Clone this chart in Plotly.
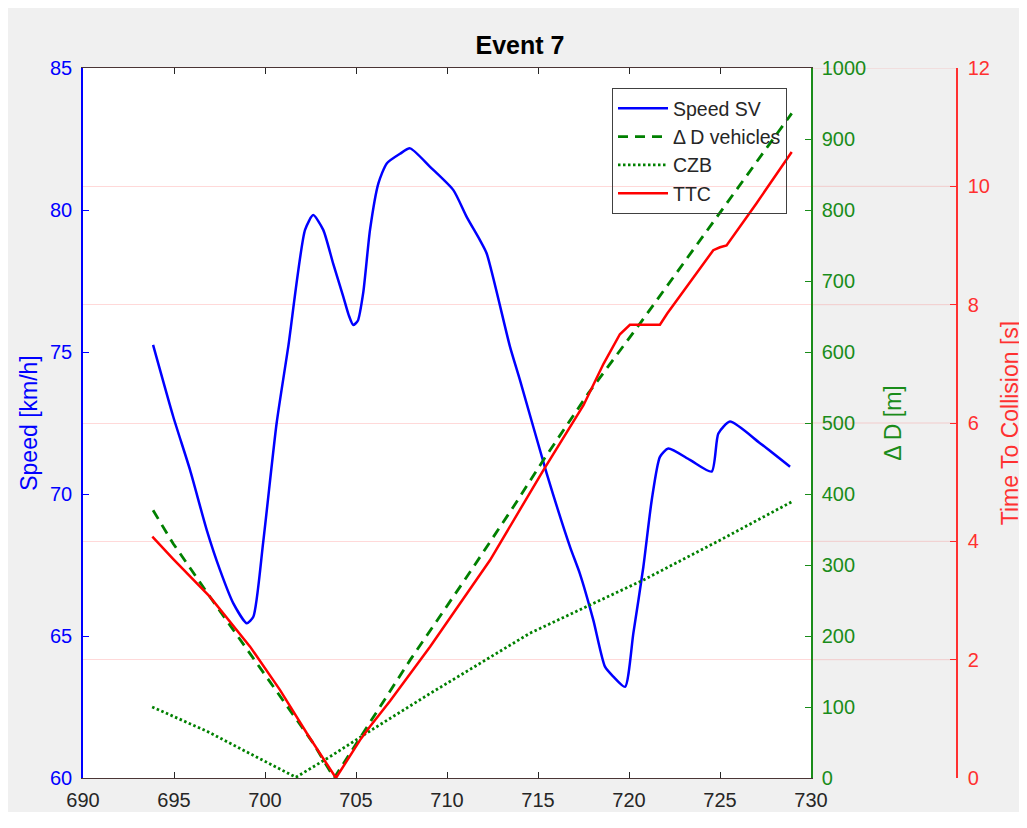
import plotly.graph_objects as go

# ---------------- data ----------------
t_speed = [693.85, 694.96, 695.88, 696.8, 697.53, 698.26, 699.0, 699.36, 699.9, 700.64,
           701.28, 702.2, 702.65, 703.2, 703.75, 704.3, 704.6, 704.85, 705.1, 705.4,
           705.77, 706.23, 706.69, 707.42, 707.97, 709.07, 710.35, 711.08, 711.81, 712.18,
           713.46, 714.01, 715.48, 716.76, 717.3, 718.04, 718.68, 719.14, 719.78, 720.24,
           720.79, 721.25, 721.7, 722.16, 723.35, 724.54, 724.91, 725.55, 727.2, 728.85]
speed_sv = [75.25, 72.72, 70.85, 68.73, 67.32, 66.15, 65.45, 65.68, 68.3, 72.5,
            75.2, 79.3, 79.82, 79.3, 78.1, 76.95, 76.3, 75.95, 76.1, 77.1,
            79.3, 80.94, 81.64, 81.98, 82.17, 81.52, 80.7, 79.76, 78.94, 78.47,
            75.19, 74.01, 70.72, 68.14, 67.2, 65.56, 63.92, 63.57, 63.21, 65.1,
            67.44, 69.79, 71.31, 71.6, 71.2, 70.79, 72.13, 72.55, 71.79, 70.96]

t_dd = [693.85, 694.96, 696.98, 701.0, 702.65, 703.8, 704.85, 707.97, 711.08, 713.65,
        715.3, 717.77, 720.6, 722.98, 725.46, 727.47, 728.94]
delta_d = [377, 330, 255, 110, 49, 0, 42, 166, 283, 382,
           448, 542, 640, 725, 814, 884, 936]

t_czb = [693.8, 696.8, 699.5, 701.7, 703.57, 706.0, 709.07, 714.56, 717.3, 720.8, 725.0, 728.94]
czb = [100, 66, 30, 1, 30, 70, 119, 204, 237, 279, 335, 389]

t_ttc = [693.81, 694.96, 696.98, 699.18, 700.82, 702.29, 703.9, 705.22, 705.77, 706.87,
         709.07, 712.36, 715.29, 717.5, 718.6, 719.5, 720.05, 721.7, 722.1, 724.63,
         725.0, 725.36, 727.0, 728.94]
ttc = [4.08, 3.70, 3.06, 2.22, 1.49, 0.76, 0.0, 0.64, 0.87, 1.3,
       2.22, 3.68, 5.2, 6.3, 7.0, 7.5, 7.66, 7.66, 7.85, 8.92,
       8.97, 9.0, 9.71, 10.58]

x_ticks = [690, 695, 700, 705, 710, 715, 720, 725, 730]
speed_ticks = [60, 65, 70, 75, 80, 85]
dd_ticks = [0, 100, 200, 300, 400, 500, 600, 700, 800, 900, 1000]
ttc_ticks = [0, 2, 4, 6, 8, 10, 12]

# ---------------- layout geometry ----------------
# the page body adds an 8px offset; keep the page free of scrollbars
W, H = 1019, 804
L, R, T, B = 75, 70, 60, 34
PLOT_RIGHT = 803
plot_w = W - L - R
plot_h = H - T - B
x_dom_end = (PLOT_RIGHT - L) / plot_w

def px_x(px):
    return (px - L) / plot_w

def px_y(py):
    return (H - B - py) / plot_h

FONT = "Liberation Sans, Arial, Helvetica, sans-serif"
BLUE = "#0000ff"
GREEN = "#008000"
GREEN_AX = "#1a8c1a"
RED = "#ff0000"
RED_AX = "#ff3030"
DARK = "#262626"
GRID = "rgba(255,0,0,0.15)"

fig = go.Figure()
fig.add_trace(go.Scatter(x=t_speed, y=speed_sv, name="Speed SV", mode="lines",
                         line=dict(color=BLUE, width=2.5, shape="spline", smoothing=0.6),
                         yaxis="y", legendgroup="a"))
fig.add_trace(go.Scatter(x=t_dd, y=delta_d, name="\u0394 D vehicles", mode="lines",
                         line=dict(color=GREEN, width=2.8, dash="10px,7px"),
                         yaxis="y2", legendgroup="b"))
fig.add_trace(go.Scatter(x=t_czb, y=czb, name="CZB", mode="lines",
                         line=dict(color=GREEN, width=2.8, dash="2.5px,2.5px"),
                         yaxis="y2", legendgroup="c"))
fig.add_trace(go.Scatter(x=t_ttc, y=ttc, name="TTC", mode="lines",
                         line=dict(color=RED, width=2.5),
                         yaxis="y3", legendgroup="d"))

shapes = []
# red grid lines continuing outside the axes box up to the TTC axis
for v in ttc_ticks[1:]:
    shapes.append(dict(type="line", xref="paper", yref="y3", x0=x_dom_end, x1=1,
                       y0=v, y1=v, line=dict(color=GRID, width=1), layer="above"))

fig.update_layout(
    width=W, height=H,
    margin=dict(l=L, r=R, t=T, b=B, autoexpand=False),
    paper_bgcolor="#f0f0f0",
    plot_bgcolor="white",
    font=dict(family=FONT, size=20, color=DARK),
    title=dict(text="<b>Event 7</b>", x=0.5, xref="paper",
               xanchor="center", y=1 - 37 / H, yref="container", yanchor="middle",
               font=dict(family=FONT, size=25, color="#000000")),
    xaxis=dict(domain=[0, x_dom_end], range=[690, 730], tickvals=x_ticks,
               ticks="inside", ticklen=6, tickcolor=DARK, showline=True, linecolor="#4a3535",
               linewidth=1, mirror="ticks", showgrid=False, zeroline=False,
               tickfont=dict(size=20, color=DARK), ticklabelstandoff=4, automargin=False),
    yaxis=dict(range=[60, 85], tickvals=speed_ticks, ticks="inside", ticklen=6,
               tickcolor=BLUE, showline=True, linecolor=BLUE, linewidth=1.5,
               showgrid=False, zeroline=False, tickfont=dict(size=20, color=BLUE),
               ticklabelstandoff=5,
               title=dict(text="Speed [km/h]", font=dict(size=23, color=BLUE), standoff=6),
               automargin=False),
    yaxis2=dict(range=[0, 1000], tickvals=dd_ticks, overlaying="y", side="right",
                anchor="x", ticks="inside", ticklen=6, tickcolor=GREEN_AX, showline=True,
                linecolor=GREEN_AX, linewidth=1.5, showgrid=False, zeroline=False,
                tickfont=dict(size=20, color=GREEN_AX), ticklabelstandoff=5,
                title=dict(text="\u0394 D [m]", font=dict(size=23, color=GREEN_AX), standoff=20),
                automargin=False),
    yaxis3=dict(range=[0, 12], tickvals=ttc_ticks, overlaying="y", side="right",
                anchor="free", position=1, ticks="inside", ticklen=6, tickcolor=RED_AX,
                showline=True, linecolor=RED_AX, linewidth=1.5, showgrid=True,
                gridcolor=GRID, gridwidth=1, zeroline=False,
                tickfont=dict(size=20, color=RED_AX), ticklabelstandoff=6,
                title=dict(text="Time To Collision [s]", font=dict(size=23, color=RED_AX), standoff=12),
                automargin=False),
    legend=dict(x=px_x(604), y=px_y(80), xanchor="left", yanchor="top",
                bgcolor="rgba(255,255,255,0)", bordercolor="#404040", borderwidth=1,
                font=dict(size=19.5, color=DARK), traceorder="grouped", tracegroupgap=0,
                itemwidth=50),
    shapes=shapes,
    showlegend=True,
)

fig.write_html("out.html")
